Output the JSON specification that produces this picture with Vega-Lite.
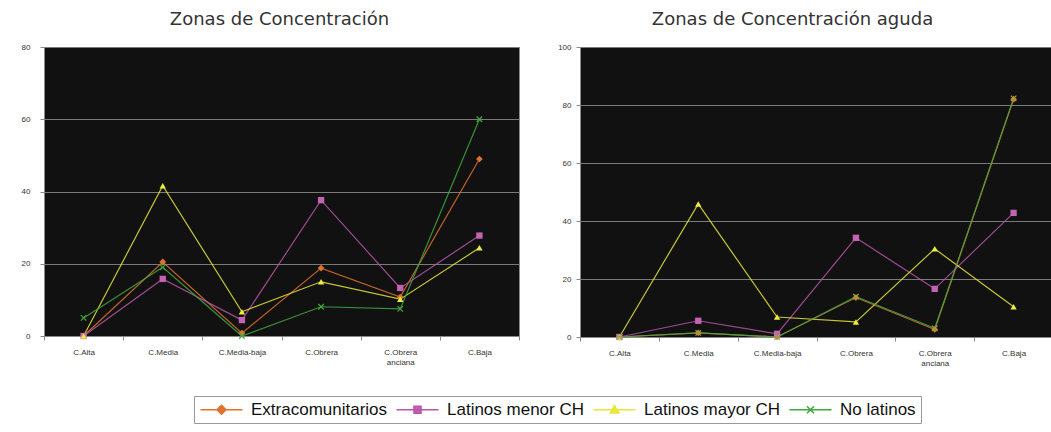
{
  "$schema": "https://vega.github.io/schema/vega-lite/v6.json",
  "background": "white",
  "padding": {"left": 20, "top": 10, "right": 0, "bottom": 5},
  "config": {
    "view": {"fill": "#111111", "stroke": "#8a8a8a", "strokeWidth": 1},
    "font": "Liberation Sans",
    "axis": {"labelFont": "Liberation Sans", "labelFontSize": 8, "labelColor": "#333333", "tickColor": "#888888", "domainColor": "#888888", "gridColor": "#7a7a7a", "gridWidth": 1},
    "title": {"font": "DejaVu Sans", "fontSize": 18, "fontWeight": "normal", "color": "#333333", "offset": 14}
  },
  "datasets": {
    "d": [
      {"panel": "A", "zona": "C.Alta", "serie": "Extracomunitarios", "valor": 0},
      {"panel": "A", "zona": "C.Media", "serie": "Extracomunitarios", "valor": 20.5},
      {"panel": "A", "zona": "C.Media-baja", "serie": "Extracomunitarios", "valor": 0.8},
      {"panel": "A", "zona": "C.Obrera", "serie": "Extracomunitarios", "valor": 18.8},
      {"panel": "A", "zona": "C.Obrera anciana", "serie": "Extracomunitarios", "valor": 10.8},
      {"panel": "A", "zona": "C.Baja", "serie": "Extracomunitarios", "valor": 49},
      {"panel": "A", "zona": "C.Alta", "serie": "Latinos menor CH", "valor": 0},
      {"panel": "A", "zona": "C.Media", "serie": "Latinos menor CH", "valor": 15.8},
      {"panel": "A", "zona": "C.Media-baja", "serie": "Latinos menor CH", "valor": 4.4},
      {"panel": "A", "zona": "C.Obrera", "serie": "Latinos menor CH", "valor": 37.6},
      {"panel": "A", "zona": "C.Obrera anciana", "serie": "Latinos menor CH", "valor": 13.3},
      {"panel": "A", "zona": "C.Baja", "serie": "Latinos menor CH", "valor": 27.8},
      {"panel": "A", "zona": "C.Alta", "serie": "Latinos mayor CH", "valor": 0},
      {"panel": "A", "zona": "C.Media", "serie": "Latinos mayor CH", "valor": 41.6},
      {"panel": "A", "zona": "C.Media-baja", "serie": "Latinos mayor CH", "valor": 6.7},
      {"panel": "A", "zona": "C.Obrera", "serie": "Latinos mayor CH", "valor": 15},
      {"panel": "A", "zona": "C.Obrera anciana", "serie": "Latinos mayor CH", "valor": 10.2},
      {"panel": "A", "zona": "C.Baja", "serie": "Latinos mayor CH", "valor": 24.4},
      {"panel": "A", "zona": "C.Alta", "serie": "No latinos", "valor": 5},
      {"panel": "A", "zona": "C.Media", "serie": "No latinos", "valor": 19},
      {"panel": "A", "zona": "C.Media-baja", "serie": "No latinos", "valor": 0},
      {"panel": "A", "zona": "C.Obrera", "serie": "No latinos", "valor": 8.1},
      {"panel": "A", "zona": "C.Obrera anciana", "serie": "No latinos", "valor": 7.5},
      {"panel": "A", "zona": "C.Baja", "serie": "No latinos", "valor": 60},
      {"panel": "B", "zona": "C.Alta", "serie": "Extracomunitarios", "valor": 0},
      {"panel": "B", "zona": "C.Media", "serie": "Extracomunitarios", "valor": 1.4},
      {"panel": "B", "zona": "C.Media-baja", "serie": "Extracomunitarios", "valor": 0},
      {"panel": "B", "zona": "C.Obrera", "serie": "Extracomunitarios", "valor": 13.6},
      {"panel": "B", "zona": "C.Obrera anciana", "serie": "Extracomunitarios", "valor": 2.6},
      {"panel": "B", "zona": "C.Baja", "serie": "Extracomunitarios", "valor": 82},
      {"panel": "B", "zona": "C.Alta", "serie": "Latinos menor CH", "valor": 0},
      {"panel": "B", "zona": "C.Media", "serie": "Latinos menor CH", "valor": 5.6},
      {"panel": "B", "zona": "C.Media-baja", "serie": "Latinos menor CH", "valor": 1.1},
      {"panel": "B", "zona": "C.Obrera", "serie": "Latinos menor CH", "valor": 34.2},
      {"panel": "B", "zona": "C.Obrera anciana", "serie": "Latinos menor CH", "valor": 16.6},
      {"panel": "B", "zona": "C.Baja", "serie": "Latinos menor CH", "valor": 42.8},
      {"panel": "B", "zona": "C.Alta", "serie": "Latinos mayor CH", "valor": 0},
      {"panel": "B", "zona": "C.Media", "serie": "Latinos mayor CH", "valor": 45.9},
      {"panel": "B", "zona": "C.Media-baja", "serie": "Latinos mayor CH", "valor": 6.9},
      {"panel": "B", "zona": "C.Obrera", "serie": "Latinos mayor CH", "valor": 5.2},
      {"panel": "B", "zona": "C.Obrera anciana", "serie": "Latinos mayor CH", "valor": 30.4},
      {"panel": "B", "zona": "C.Baja", "serie": "Latinos mayor CH", "valor": 10.4},
      {"panel": "B", "zona": "C.Alta", "serie": "No latinos", "valor": 0},
      {"panel": "B", "zona": "C.Media", "serie": "No latinos", "valor": 1.4},
      {"panel": "B", "zona": "C.Media-baja", "serie": "No latinos", "valor": 0},
      {"panel": "B", "zona": "C.Obrera", "serie": "No latinos", "valor": 13.9},
      {"panel": "B", "zona": "C.Obrera anciana", "serie": "No latinos", "valor": 3},
      {"panel": "B", "zona": "C.Baja", "serie": "No latinos", "valor": 82.3}
    ]
  },
  "spacing": 37,
  "resolve": {"scale": {"color": "shared", "shape": "shared", "fill": "shared"}},
  "hconcat": [
    {
      "title": {"text": "Zonas de Concentración", "anchor": "middle", "dx": -2},
      "width": 475,
      "height": 289,
      "data": {"name": "d"},
      "transform": [{"filter": "datum.panel === 'A'"}],
      "encoding": {
        "x": {"field": "zona", "type": "nominal", "sort": ["C.Alta", "C.Media", "C.Media-baja", "C.Obrera", "C.Obrera anciana", "C.Baja"],
              "scale": {"type": "band", "paddingInner": 0, "paddingOuter": 0},
              "axis": {"title": null, "labelAngle": 0, "tickBand": "extent", "tickSize": 4, "labelPadding": 8, "grid": false,
                       "labelExpr": "datum.label === 'C.Obrera anciana' ? ['C.Obrera', 'anciana'] : datum.label"}},
        "y": {"field": "valor", "type": "quantitative", "scale": {"domain": [0, 80], "nice": false},
              "axis": {"title": null, "values": [0, 20, 40, 60, 80], "grid": true, "tickSize": 4, "labelPadding": 10, "domain": false}}
      },
      "layer": [
        {"mark": {"type": "line", "strokeWidth": 1.2, "opacity": 0.85},
         "encoding": {
           "color": {"field": "serie", "type": "nominal",
                     "scale": {"domain": ["Extracomunitarios", "Latinos menor CH", "Latinos mayor CH", "No latinos"], "range": ["#E0722C", "#B855A8", "#E6E63A", "#3FA83F"]},
                     "legend": {"orient": "none", "direction": "horizontal", "legendX": 150, "legendY": 349, "title": null,
                                "symbolSize": 196, "symbolStrokeWidth": 1.5, "symbolOpacity": 1, "labelFontSize": 17, "labelFont": "Liberation Sans", "labelColor": "#111111",
                                "labelOffset": 35, "columnPadding": 5, "strokeColor": "#9a9a9a", "fillColor": "white", "padding": 5}}
         }},
        {"mark": {"type": "point", "filled": true, "size": 0},
         "encoding": {
           "shape": {"field": "serie", "type": "nominal", "legend": null,
                     "scale": {"domain": ["Extracomunitarios", "Latinos menor CH", "Latinos mayor CH", "No latinos"],
                               "range": ["M-1,0H5M2,-0.64L2.64,0L2,0.64L1.36,0Z", "M-1,0H5M1.5,-0.5H2.5V0.5H1.5Z", "M-1,0H5M2,-0.6L2.6,0.45H1.4Z", "M-1,0H5M1.5,-0.5L2.5,0.5M1.5,0.5L2.5,-0.5"]}},
           "fill": {"field": "serie", "type": "nominal", "legend": null,
                    "scale": {"domain": ["Extracomunitarios", "Latinos menor CH", "Latinos mayor CH", "No latinos"], "range": ["#E0722C", "#C462B4", "#ECEC40", "#3FA83F"]}}
         }},
        {"transform": [{"filter": "datum.serie === 'Extracomunitarios'"}],
         "mark": {"type": "point", "shape": "diamond", "filled": true, "size": 45, "opacity": 1, "color": "#E0722C"}},
        {"transform": [{"filter": "datum.serie === 'Latinos menor CH'"}],
         "mark": {"type": "point", "shape": "square", "filled": true, "size": 40, "opacity": 1, "color": "#C462B4"}},
        {"transform": [{"filter": "datum.serie === 'Latinos mayor CH'"}],
         "mark": {"type": "point", "shape": "triangle-up", "filled": true, "size": 40, "opacity": 1, "color": "#ECEC40"}},
        {"transform": [{"filter": "datum.serie === 'No latinos'"}],
         "mark": {"type": "point", "shape": "M-1,-1L1,1M-1,1L1,-1", "filled": false, "size": 30, "opacity": 1, "strokeWidth": 1.2, "color": "#3FA83F"}}
      ]
    },
    {
      "title": {"text": "Zonas de Concentración aguda", "anchor": "middle", "dx": -24},
      "width": 473,
      "height": 290,
      "data": {"name": "d"},
      "transform": [{"filter": "datum.panel === 'B'"}],
      "encoding": {
        "x": {"field": "zona", "type": "nominal", "sort": ["C.Alta", "C.Media", "C.Media-baja", "C.Obrera", "C.Obrera anciana", "C.Baja"],
              "scale": {"type": "band", "paddingInner": 0, "paddingOuter": 0},
              "axis": {"title": null, "labelAngle": 0, "tickBand": "extent", "tickSize": 4, "labelPadding": 8, "grid": false,
                       "labelExpr": "datum.label === 'C.Obrera anciana' ? ['C.Obrera', 'anciana'] : datum.label"}},
        "y": {"field": "valor", "type": "quantitative", "scale": {"domain": [0, 100], "nice": false},
              "axis": {"title": null, "values": [0, 20, 40, 60, 80, 100], "grid": true, "tickSize": 4, "labelPadding": 5, "domain": false}}
      },
      "layer": [
        {"mark": {"type": "line", "strokeWidth": 1.2, "opacity": 0.85},
         "encoding": {
           "color": {"field": "serie", "type": "nominal", "legend": null,
                     "scale": {"domain": ["Extracomunitarios", "Latinos menor CH", "Latinos mayor CH", "No latinos"], "range": ["#E0722C", "#B855A8", "#E6E63A", "#3FA83F"]}}
         }},
        {"transform": [{"filter": "datum.serie === 'Extracomunitarios'"}],
         "mark": {"type": "point", "shape": "diamond", "filled": true, "size": 45, "opacity": 1, "color": "#E0722C"}},
        {"transform": [{"filter": "datum.serie === 'Latinos menor CH'"}],
         "mark": {"type": "point", "shape": "square", "filled": true, "size": 40, "opacity": 1, "color": "#C462B4"}},
        {"transform": [{"filter": "datum.serie === 'Latinos mayor CH'"}],
         "mark": {"type": "point", "shape": "triangle-up", "filled": true, "size": 40, "opacity": 1, "color": "#ECEC40"}},
        {"transform": [{"filter": "datum.serie === 'No latinos'"}],
         "mark": {"type": "point", "shape": "M-1,-1L1,1M-1,1L1,-1", "filled": false, "size": 30, "opacity": 1, "strokeWidth": 1.2, "color": "#8CA83F"}}
      ]
    }
  ]
}
